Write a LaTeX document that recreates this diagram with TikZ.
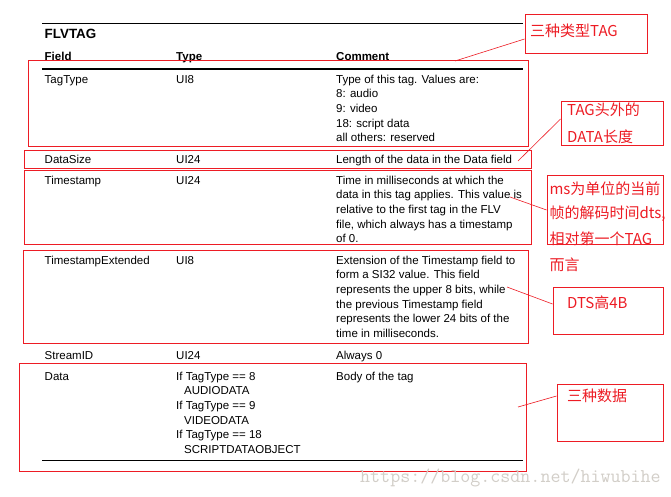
\documentclass[tikz,border=0pt]{standalone}
\usepackage{fontspec}
\setmainfont{Liberation Sans}
\newfontfamily\cjk{Noto Sans CJK SC}
\definecolor{mkred}{RGB}{237,28,36}
\definecolor{wmgray}{RGB}{210,206,200}
\newcommand{\cellbox}[1]{\parbox[t]{8cm}{\fontsize{11.5}{14.6}\selectfont\raggedright #1}}
\tikzset{
  cell/.style={anchor=base west, inner sep=0pt, font=\fontsize{11.5}{14.6}\selectfont},
  head/.style={cell, font=\bfseries\fontsize{11.5}{14.6}\selectfont},
  title/.style={cell, font=\bfseries\fontsize{13.4}{16}\selectfont},
  rulel/.style={line width=1pt, black},
  redbox/.style={draw=mkred, line width=0.9pt},
  notebox/.style={draw=mkred, line width=0.9pt, inner sep=0pt},
  note/.style={anchor=base west, inner sep=0pt, text=mkred, font=\cjk\fontsize{15}{18}\selectfont},
  link/.style={draw=mkred, line width=0.6pt},
  wm/.style={anchor=base west, inner sep=0pt, text=wmgray, font=\ttfamily\fontsize{19.45}{20}\selectfont}
}
\begin{document}
\begin{tikzpicture}[x=1pt,y=-1pt]
\useasboundingbox[fill=white] (0,0) rectangle (671,496);

% rules
\draw[rulel] (42,23.3) -- (523,23.3);
\draw[rulel, line width=1.1pt] (42,69) -- (523,69);
\draw[rulel] (42,460) -- (523,460);

% title and headers
\node[title] (ttl) at (44.5,38.3) {FLVTAG};
\node[head] (hField) at (44.5,60) {Field};
\node[head] (hType) at (176,60) {Type};
\node[head] (hComment) at (336,60) {Comment};

% TagType
\node[cell] (f1) at (44.5,83.3) {TagType};
\node[cell] (t1) at (176,83.3) {UI8};
\node[cell] (c1) at (336,83.3) {\cellbox{Type of this tag. Values are:\\8: audio\\9: video\\18: script data\\all others: reserved}};

% DataSize
\node[cell] (f2) at (44.5,163) {DataSize};
\node[cell] (t2) at (176,163) {UI24};
\node[cell] (c2) at (336,163) {Length of the data in the Data field};

% Timestamp
\node[cell] (f3) at (44.5,184.3) {Timestamp};
\node[cell] (t3) at (176,184.3) {UI24};
\node[cell] (c3) at (336,184.3) {\cellbox{Time in milliseconds at which the\\data in this tag applies. This value is\\relative to the first tag in the FLV\\file, which always has a timestamp\\of 0.}};

% TimestampExtended
\node[cell] (f4) at (44.5,264.3) {TimestampExtended};
\node[cell] (t4) at (176,264.3) {UI8};
\node[cell] (c4) at (336,264.3) {\cellbox{Extension of the Timestamp field to\\form a SI32 value. This field\\represents the upper 8 bits, while\\the previous Timestamp field\\represents the lower 24 bits of the\\time in milliseconds.}};

% StreamID
\node[cell] (f5) at (44.5,359.3) {StreamID};
\node[cell] (t5) at (176,359.3) {UI24};
\node[cell] (c5) at (336,359.3) {Always 0};

% Data
\node[cell] (f6) at (44.5,380.3) {Data};
\node[cell] (t6) at (176,380.3) {\cellbox{If TagType == 8\\\hspace*{8pt}AUDIODATA\\If TagType == 9\\\hspace*{8pt}VIDEODATA\\If TagType == 18\\\hspace*{8pt}SCRIPTDATAOBJECT}};
\node[cell] (c6) at (336,380.3) {Body of the tag};

% red highlight boxes over the table
\draw[redbox] (28.3,60) rectangle (528.3,146);
\draw[redbox] (24,150.7) rectangle (531,168);
\draw[redbox] (24.3,170.7) rectangle (531.3,244);
\draw[redbox] (23.3,250.7) rectangle (528.3,343.3);
\draw[redbox] (19.3,363.3) rectangle (526,471);

% annotation boxes
\node[notebox, minimum width=122pt, minimum height=39pt] (boxA) at (586,33.5) {};
\node[notebox, minimum width=102pt, minimum height=44pt] (boxB) at (612,123) {};
\node[notebox, minimum width=116pt, minimum height=69pt] (boxC) at (605,209.5) {};
\node[notebox, minimum width=110pt, minimum height=47pt] (boxD) at (608,310.5) {};
\node[notebox, minimum width=106pt, minimum height=57pt] (boxE) at (610,412.5) {};

% annotation texts
\node[note] (nA) at (530,36.5) {三种类型TAG};
\node[note] (nB1) at (567,115.8) {TAG头外的};
\node[note] (nB2) at (567,142.8) {DATA长度};
\node[note] (nC1) at (549.3,194) {ms为单位的当前};
\node[note] (nC2) at (549.3,218.4) {帧的解码时间dts,};
\node[note] (nC3) at (549.3,244.6) {相对第一个TAG};
\node[note] (nC4) at (549.3,270.6) {而言};
\node[note] (nD) at (567,308.8) {DTS高4B};
\node[note] (nE) at (567,401.8) {三种数据};

% connector free ends
\coordinate (pA) at (455,61);
\coordinate (pB) at (518,161);
\coordinate (pC) at (510,197);
\coordinate (pD) at (507,287);
\coordinate (pE) at (518,407);

\draw[link] (pA) -- ([yshift=-5.5pt]boxA.west);
\draw[link] (pB) -- ([yshift=4pt]boxB.west);
\draw[link] (pC) -- ([yshift=-0.5pt]boxC.west);
\draw[link] (pD) -- ([yshift=6.5pt]boxD.west);
\draw[link] (pE) -- ([yshift=16.5pt]boxE.west);

% watermark
\node[wm] (wmk) at (360,482.7) {https://blog.csdn.net/hiwubihe};
\end{tikzpicture}
\end{document}
